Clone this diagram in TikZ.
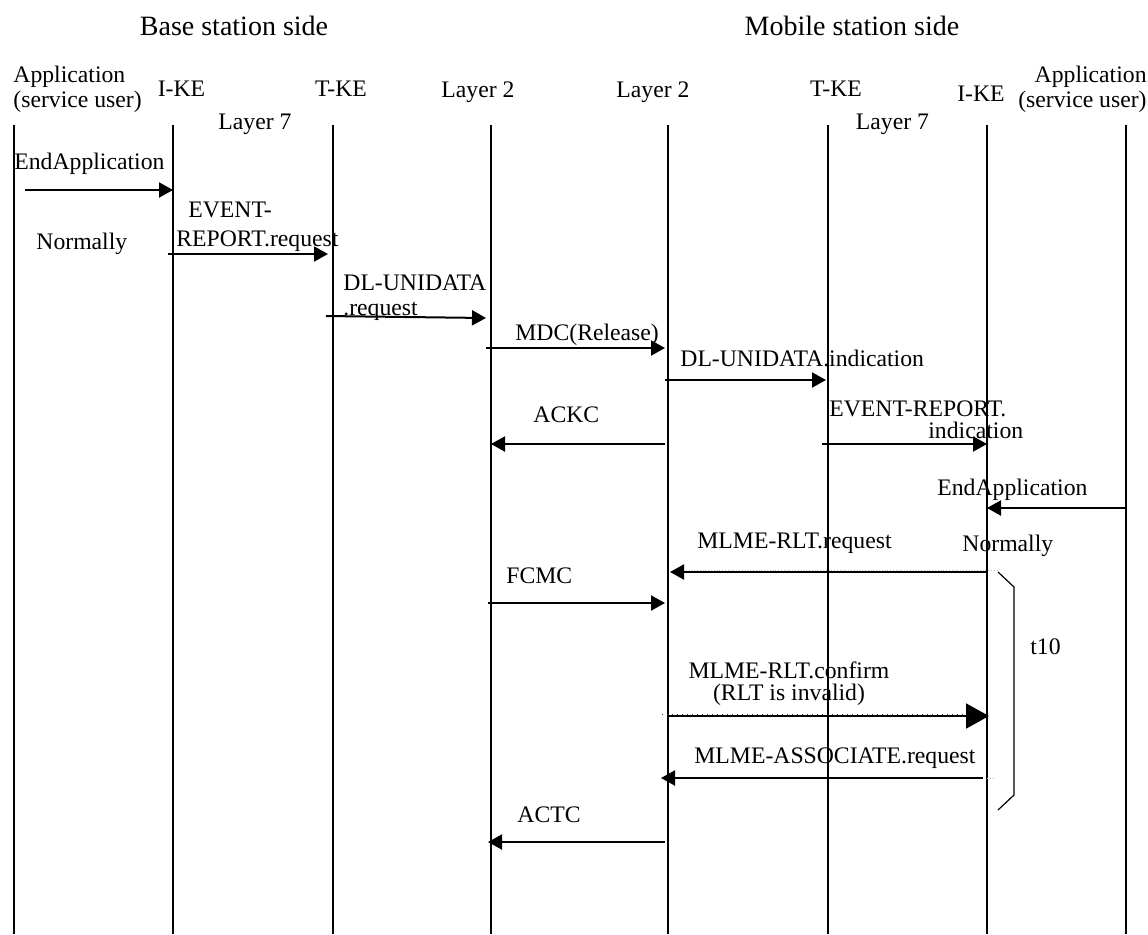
\documentclass[tikz,border=0pt]{standalone}
\usepackage{fontspec}
\setmainfont{Liberation Serif}
\usetikzlibrary{arrows.meta}

\begin{document}
\begin{tikzpicture}[
  x=0.5pt,y=-0.5pt,
  every node/.style={font=\fontsize{11.85pt}{12.5pt}\selectfont, inner sep=0pt},
  side/.style={font=\fontsize{14pt}{16pt}\selectfont, anchor=base},
  head/.style={anchor=base},
  lbl/.style={anchor=base west},
  life/.style={line width=0.75pt, line cap=butt},
  msg/.style={line width=1pt, -{Triangle[length=7pt,width=7.5pt]}},
  bigmsg/.style={line width=1pt, -{Triangle[length=11.5pt,width=12.5pt]}},
  faint/.style={gray!55, densely dotted, line width=0.4pt}
]
\useasboundingbox (0,0) rectangle (1148,934);

% sides and entities
\node[side] (bs) at (234,35) {Base station side};
\node[side] (ms) at (852,35) {Mobile station side};

\node[anchor=north west, align=left] (hAppB) at (13,66) {Application\\(service user)};
\node[head] (hIkeB) at (181.5,96) {I-KE};
\node[head] (hTkeB) at (341,96) {T-KE};
\node[head] (hL7B) at (255,129) {Layer 7};
\node[head] (hL2B) at (478,97) {Layer 2};
\node[head] (hL2M) at (653,97) {Layer 2};
\node[head] (hTkeM) at (836,96) {T-KE};
\node[head] (hIkeM) at (981,101) {I-KE};
\node[head] (hL7M) at (892.5,129) {Layer 7};
\node[anchor=north east, align=right] (hAppM) at (1147,66) {Application\\(service user)};

% lifelines
\foreach \n/\x in {appB/14,ikeB/173,tkeB/333,l2B/491,l2M/668,tkeM/828,ikeM/987,appM/1126}{
  \coordinate (\n) at (\x,125);
  \draw[life] (\n) -- ++(0,809);
}

% message rows
\foreach \r/\y in {r1/190,r2/254,r3/316,r4/348,r5/380,r6/444,r7/508,r8/572,r9/603,r10/716,r11/778,r12/842}
  \coordinate (\r) at (0,\y);

% base station side
\draw[msg] ([xshift=5.5pt]appB |- r1) -- (ikeB |- r1);
\node[lbl] (endB) at (14,169) {EndApplication};
\node[lbl] (normB) at (36,249) {Normally};

\draw[msg] ([xshift=-2.5pt]ikeB |- r2) -- ([xshift=-2.5pt]tkeB |- r2);
\node[anchor=north west, align=left] (evreq) at (176,202) {\hspace*{6pt}EVENT-\\[2pt]REPORT.request};

\draw[msg] ([xshift=-3.5pt]tkeB |- r3) -- ([xshift=-2.5pt,yshift=-1pt]l2B |- r3);
\node[anchor=north west, align=left] (dlreq) at (343,274) {DL-UNIDATA\\.request};

\draw[msg] ([xshift=-2.5pt]l2B |- r4) -- ([xshift=-1.5pt]l2M |- r4);
\node[lbl] (mdc) at (515,340) {MDC(Release)};

\draw[msg] ([xshift=-1.5pt]l2M |- r5) -- ([xshift=-1pt]tkeM |- r5);
\node[lbl] (dlind) at (680,366) {DL-UNIDATA.indication};

\draw[msg] ([xshift=-1.5pt]l2M |- r6) -- (l2B |- r6);
\node[lbl] (ackc) at (533,422) {ACKC};

% mobile station side
\draw[msg] ([xshift=-3pt]tkeM |- r6) -- (ikeM |- r6);
\node[anchor=north west, align=left] (evind) at (829,400) {EVENT-REPORT.\\[-1.5pt]\hspace*{49.5pt}indication};

\draw[msg] (appM |- r7) -- (ikeM |- r7);
\node[lbl] (endM) at (937,495) {EndApplication};
\node[lbl] (normM) at (962,551) {Normally};

\draw[faint] ([xshift=7.5pt,yshift=0.75pt]l2M |- r8) -- ([xshift=5.5pt,yshift=0.75pt]ikeM |- r8);
\draw[msg] (ikeM |- r8) -- ([xshift=1pt]l2M |- r8);
\node[lbl] (rltreq) at (697,548) {MLME-RLT.request};

\draw[msg] ([xshift=-1.5pt]l2B |- r9) -- ([xshift=-1.5pt]l2M |- r9);
\node[lbl] (fcmc) at (506,583) {FCMC};

% t10 bracket
\draw[line width=0.6pt] ([xshift=5.5pt]ikeM |- r8) -- ++(16,15) -- ++(0,208) -- ++(-16,15);
\node[lbl] (t10) at (1030,654) {t10};

\draw[black!80, dotted, line width=0.5pt] ([xshift=-3pt,yshift=1pt]l2M |- r10) -- ([yshift=1pt]ikeM |- r10);
\draw[bigmsg] (l2M |- r10) -- ([xshift=1pt]ikeM |- r10);
\node[anchor=north, align=center] (rltconf) at (789,661) {MLME-RLT.confirm\\[-1.5pt](RLT is invalid)};

\draw[faint] (ikeM |- r11) -- ([xshift=4pt]ikeM |- r11);
\draw[msg] ([xshift=-2pt]ikeM |- r11) -- ([xshift=-3.5pt]l2M |- r11);
\node[lbl] (assoc) at (694,763) {MLME-ASSOCIATE.request};

\draw[msg] ([xshift=-1.5pt]l2M |- r12) -- ([xshift=-1.5pt]l2B |- r12);
\node[lbl] (actc) at (517,822) {ACTC};
\end{tikzpicture}
\end{document}
